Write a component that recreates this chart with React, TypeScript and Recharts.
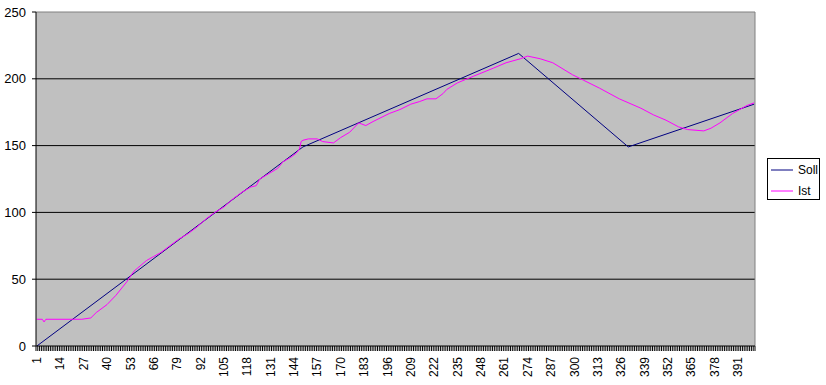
import React from 'react';
import { LineChart, Line, XAxis, YAxis, CartesianGrid, ReferenceLine, Legend } from 'recharts';

// Categories run 1..400 (Excel-style category axis)
const categoryCount = 400;
const xTickLabels = [1, 14, 27, 40, 53, 66, 79, 92, 105, 118, 131, 144, 157, 170, 183, 196, 209, 222, 235, 248, 261, 274, 287, 300, 313, 326, 339, 352, 365, 378, 391];
const yTicks = [0, 50, 100, 150, 200, 250];
const gridValues = [50, 100, 150, 200];

const seriesNames = ['Soll', 'Ist'];
const seriesColors = ['#000080', '#FF00FF'];

// Soll (setpoint) – piecewise linear profile
const sollCats = [1, 149, 269, 330, 400];
const sollValues = [0, 149, 219, 149, 181];

// Ist (actual)
const istCats = [1, 4, 5, 6, 26, 31, 34, 40, 45, 51, 55, 62, 66, 70, 75, 80, 85, 90, 95, 100, 105, 110, 115, 120, 123, 125, 130, 135, 138, 142, 145, 147, 148, 149, 152, 157, 160, 166, 170, 175, 180, 184, 188, 197, 203, 209, 214, 218, 223, 227, 229, 235, 244, 255, 262, 270, 274, 281, 288, 299, 305, 314, 325, 337, 344, 351, 358, 363, 372, 376, 381, 388, 396, 400];
const istValues = [20, 20, 18, 20, 20, 21, 25, 31, 38, 48, 56, 64, 67, 70, 75, 80, 84, 89, 95, 100, 104, 110, 115, 119, 120, 125, 129, 133, 138, 141, 144, 147, 153, 154, 155, 155, 153, 152, 156, 160, 167, 165, 168, 174, 177, 181, 183, 185, 185, 189, 192, 197, 202, 208, 212, 215, 217, 215, 212, 203, 199, 193, 185, 178, 173, 169, 164, 162, 161, 163, 167, 174, 180, 182];

const sollData = sollCats.map((c, i) => ({ x: c, y: sollValues[i] }));
const istData = istCats.map((c, i) => ({ x: c, y: istValues[i] }));
const allCats = Array.from({ length: categoryCount }, (_, i) => i + 1);
const labelSet = new Set(xTickLabels);

const FONT = '"Liberation Sans", Arial, sans-serif';
const HALF = 0.9;

const XTick = (props: any) => {
  const { x, y, payload } = props;
  const v = payload.value;
  const ly = y + 6;
  return (
    <g>
      <line x1={x - HALF} x2={x - HALF} y1={y - 5} y2={y} stroke="#000" strokeWidth={1} />
      {v === categoryCount && <line x1={x + HALF} x2={x + HALF} y1={y - 5} y2={y} stroke="#000" strokeWidth={1} />}
      {labelSet.has(v) && (
        <text
          x={x}
          y={ly}
          transform={`rotate(-90, ${x}, ${ly})`}
          textAnchor="end"
          dy="0.35em"
          fontSize={12}
          fontFamily={FONT}
          fill="#000"
        >
          {v}
        </text>
      )}
    </g>
  );
};

const renderLegend = () => (
  <svg width={53} height={42} style={{ display: 'block' }}>
    <rect x={0.5} y={0.5} width={52} height={41} fill="#fff" stroke="#000" strokeWidth={1} />
    {seriesNames.map((name, i) => {
      const cy = 12 + i * 21;
      return (
        <g key={name}>
          <line x1={4} x2={26} y1={cy} y2={cy} stroke={seriesColors[i]} strokeWidth={1} />
          <text x={31} y={cy} dy="0.36em" fontSize={12} fontFamily={FONT} fill="#000">
            {name}
          </text>
        </g>
      );
    })}
  </svg>
);

export default function App() {
  return (
    <div style={{ position: 'absolute', left: 0, top: 0 }}>
      <LineChart width={826} height={385} margin={{ top: 12, right: 71, bottom: 2, left: 8 }}>
        <CartesianGrid
          fill="#C0C0C0"
          fillOpacity={1}
          vertical={false}
          horizontalValues={gridValues}
          stroke="#000"
          strokeDasharray=""
        />
        <XAxis
          type="number"
          dataKey="x"
          domain={[0.5, 400.5]}
          ticks={allCats}
          interval={0}
          tick={<XTick />}
          tickLine={false}
          tickSize={5}
          tickMargin={0}
          axisLine={{ stroke: '#000' }}
          height={37}
          allowDataOverflow
        />
        <YAxis
          type="number"
          domain={[0, 250]}
          ticks={yTicks}
          interval={0}
          width={28}
          tickSize={4}
          tickMargin={6}
          tickLine={{ stroke: '#000' }}
          axisLine={{ stroke: '#000' }}
          tick={{ fill: '#000', fontSize: 13, fontFamily: FONT }}
        />
        <ReferenceLine y={250} stroke="#808080" />
        <ReferenceLine x={400.5} stroke="#808080" />
        <Line data={sollData} dataKey="y" name={seriesNames[0]} type="linear" stroke={seriesColors[0]} strokeWidth={1} dot={false} isAnimationActive={false} />
        <Line data={istData} dataKey="y" name={seriesNames[1]} type="linear" stroke={seriesColors[1]} strokeWidth={1} dot={false} isAnimationActive={false} />
        <Legend
          layout="vertical"
          align="center"
          verticalAlign="middle"
          content={renderLegend}
          wrapperStyle={{ left: 767, top: 158, width: 53, height: 42 }}
        />
      </LineChart>
    </div>
  );
}
